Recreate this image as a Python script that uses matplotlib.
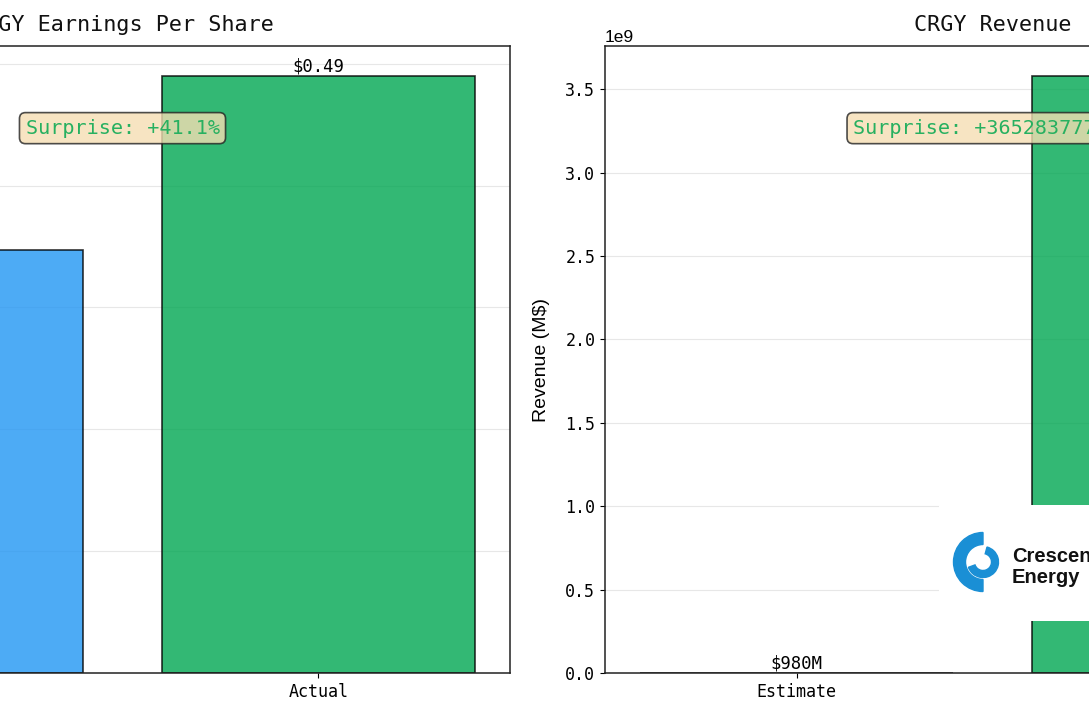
import matplotlib
matplotlib.use("Agg")
import matplotlib.pyplot as plt
from matplotlib import font_manager as fm
from matplotlib.patches import Wedge

# ---------------- data ----------------
ticker = "CRGY"
categories = ["Estimate", "Actual"]
eps_values = [0.3473, 0.49]
revenue_values = [980, 3579782000]
eps_labels = ["$0.35", "$0.49"]
revenue_labels = ["$980M", "$3579782000M"]
bar_colors = ["#2196F3", "#00A651"]

def surprise(vals):
    return (vals[1] - vals[0]) / vals[0] * 100

# ---------------- fonts ----------------
names = {f.name for f in fm.fontManager.ttflist}
if "Noto Sans Mono CJK SC" in names:
    MONO, W = "Noto Sans Mono CJK SC", 0.5
else:
    MONO, W = "DejaVu Sans Mono", 0.602
DPI = 100

def fs(px_per_char):
    return px_per_char / W * 72 / DPI

plt.rcParams["font.family"] = [MONO, "DejaVu Sans"]
plt.rcParams["axes.unicode_minus"] = False

FIG_W, FIG_H = 1089, 720
fig = plt.figure(figsize=(FIG_W / DPI, FIG_H / DPI), dpi=DPI)

def px_axes(x0, x1, ytop, ybot):
    return [x0 / FIG_W, (FIG_H - ybot) / FIG_H, (x1 - x0) / FIG_W, (ybot - ytop) / FIG_H]

ax1 = fig.add_axes(px_axes(-265, 510, 46, 673))
ax2 = fig.add_axes(px_axes(605, 1380, 46, 673))

def style_axes(ax):
    ax.set_axisbelow(True)
    ax.grid(axis="y", alpha=0.3)
    for sp in ax.spines.values():
        sp.set_color("#222222")
        sp.set_linewidth(1.1)
    ax.tick_params(labelsize=fs(10.0))

# EPS panel
style_axes(ax1)
x = list(range(len(categories)))
bars1 = ax1.bar(x, eps_values, width=0.8, color=bar_colors, alpha=0.8,
                edgecolor="black", linewidth=1.2)
for b, lab in zip(bars1, eps_labels):
    ax1.text(b.get_x() + b.get_width() / 2, b.get_height(), lab,
             ha="center", va="bottom", fontsize=fs(10.4))
ax1.set_xticks(x)
ax1.set_xticklabels(categories)
ax1.set_ylabel("EPS ($)", family="Liberation Sans", fontsize=14, labelpad=11)
ax1.set_title(f"{ticker} Earnings Per Share", fontsize=fs(13.1), color="#111111", pad=10.5)
ax1.text(0.5, 0.869, f"Surprise: {surprise(eps_values):+.1f}%",
         transform=ax1.transAxes, ha="center", va="center",
         fontsize=fs(12.1), color="#27B060",
         bbox=dict(boxstyle="round,pad=0.3", facecolor="wheat", alpha=0.8,
                   edgecolor="#222222", linewidth=1.2))

# Revenue panel
style_axes(ax2)
bars2 = ax2.bar(x, revenue_values, width=0.8, color=bar_colors, alpha=0.8,
                edgecolor="black", linewidth=1.2)
for b, lab in zip(bars2, revenue_labels):
    ax2.text(b.get_x() + b.get_width() / 2, b.get_height(), lab,
             ha="center", va="bottom", fontsize=fs(10.4))
ax2.set_xticks(x)
ax2.set_xticklabels(categories)
ax2.set_ylabel("Revenue (M$)", family="Liberation Sans", fontsize=14, labelpad=11)
ax2.yaxis.get_offset_text().set_fontfamily("Liberation Sans")
ax2.yaxis.get_offset_text().set_fontsize(12.5)
ax2.set_title(f"{ticker} Revenue", fontsize=fs(13.1), color="#111111", pad=10.5)
ax2.text(0.5, 0.869, f"Surprise: {surprise(revenue_values):+.1f}%",
         transform=ax2.transAxes, ha="center", va="center",
         fontsize=fs(12.1), color="#27B060",
         bbox=dict(boxstyle="round,pad=0.3", facecolor="wheat", alpha=0.8,
                   edgecolor="#222222", linewidth=1.2))

# Company logo (drawn as shapes and text on a white panel)
lx0, lx1, ly0, ly1 = 939, 1125, 505, 621
axl = fig.add_axes(px_axes(lx0, lx1, ly0, ly1))
axl.set_xlim(0, lx1 - lx0)
axl.set_ylim(0, ly1 - ly0)
axl.set_facecolor("white")
axl.axis("off")
axl.add_patch(plt.Rectangle((0, 0), lx1 - lx0, ly1 - ly0, color="white", zorder=0))
c = (983 - lx0, ly1 - 562)
logo_blue = "#1A8FD5"
axl.add_patch(Wedge(c, 29.5, 90, 270, width=12, color=logo_blue, zorder=2))
axl.add_patch(Wedge(c, 15.5, -160, 75, width=7, color=logo_blue, zorder=2))
axl.text(1012 - lx0, ly1 - 562, "Crescent", family="Liberation Sans",
         fontweight="bold", fontsize=14.5, color="#111111", va="baseline")
axl.text(1012 - lx0, ly1 - 583, "Energy", family="Liberation Sans",
         fontweight="bold", fontsize=14.5, color="#111111", va="baseline")

fig.savefig("out.png", dpi=DPI)
